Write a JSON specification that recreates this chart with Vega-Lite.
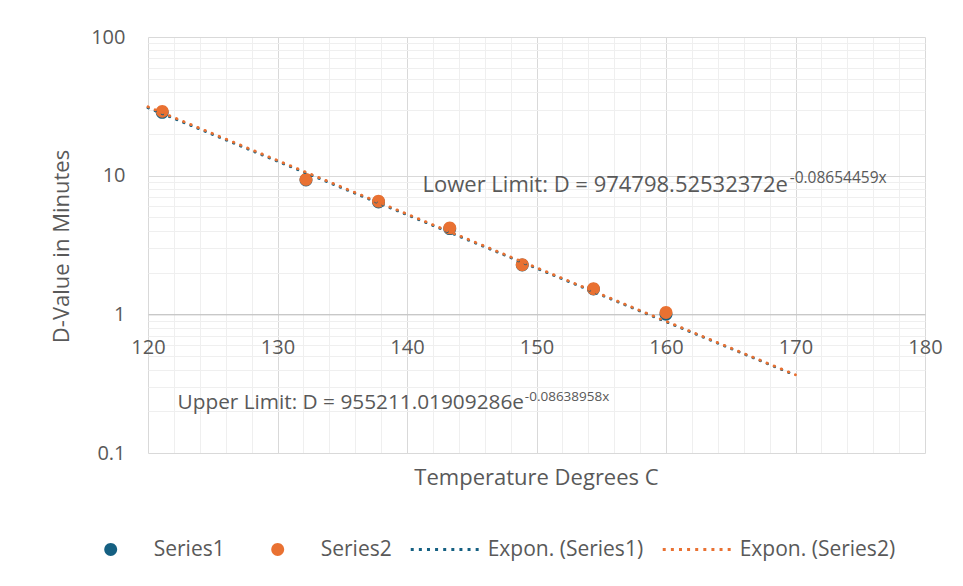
{
  "$schema": "https://vega.github.io/schema/vega-lite/v6.json",
  "width": 777,
  "height": 416,
  "autosize": {"type": "none"},
  "padding": {"left": 148, "top": 37, "right": 38, "bottom": 133},
  "background": "white",
  "config": {
    "view": {"stroke": null},
    "font": "Open Sans",
    "axis": {"labelFont": "Open Sans", "titleFont": "Open Sans", "labelColor": "#595959", "titleColor": "#595959", "titleFontWeight": "normal"},
    "legend": {"labelFont": "Open Sans"}
  },
  "datasets": {
    "pts": [
      {"series": "Series1", "T": 121.1, "D": 28.6},
      {"series": "Series1", "T": 132.2, "D": 9.3},
      {"series": "Series1", "T": 137.8, "D": 6.45},
      {"series": "Series1", "T": 143.3, "D": 4.15},
      {"series": "Series1", "T": 148.9, "D": 2.27},
      {"series": "Series1", "T": 154.4, "D": 1.52},
      {"series": "Series1", "T": 160.0, "D": 1.0},
      {"series": "Series2", "T": 121.1, "D": 29.1},
      {"series": "Series2", "T": 132.2, "D": 9.4},
      {"series": "Series2", "T": 137.8, "D": 6.55},
      {"series": "Series2", "T": 143.3, "D": 4.2},
      {"series": "Series2", "T": 148.9, "D": 2.28},
      {"series": "Series2", "T": 154.4, "D": 1.53},
      {"series": "Series2", "T": 160.0, "D": 1.03}
    ]
  },
  "resolve": {"axis": {"x": "independent", "y": "independent"}},
  "layer": [
    {
      "data": {"name": "pts"},
      "mark": {"type": "point", "opacity": 0},
      "encoding": {
        "x": {"field": "T", "type": "quantitative", "scale": {"domain": [120, 180], "nice": false, "zero": false},
          "axis": {"orient": "bottom", "values": [122,124,126,128,132,134,136,138,142,144,146,148,152,154,156,158,162,164,166,168,172,174,176,178], "grid": true, "gridColor": "#efefef", "gridWidth": 1, "labels": false, "ticks": false, "domain": false, "title": null}},
        "y": {"field": "D", "type": "quantitative", "scale": {"type": "log", "domain": [0.1, 100], "nice": false},
          "axis": {"orient": "left", "values": [0.2,0.3,0.4,0.5,0.6,0.7,0.8,0.9,2,3,4,5,6,7,8,9,20,30,40,50,60,70,80,90], "grid": true, "gridColor": "#efefef", "gridWidth": 1, "labels": false, "ticks": false, "domain": false, "title": null}}
      }
    },
    {
      "data": {"name": "pts"},
      "mark": {"type": "point", "opacity": 0},
      "encoding": {
        "x": {"field": "T", "type": "quantitative", "scale": {"domain": [120, 180], "nice": false, "zero": false},
          "axis": {"orient": "bottom", "values": [120,130,140,150,160,170,180], "grid": true, "gridColor": "#d9d9d9", "gridWidth": 1, "labels": false, "ticks": false, "domain": false, "title": null}},
        "y": {"field": "D", "type": "quantitative", "scale": {"type": "log", "domain": [0.1, 100], "nice": false},
          "axis": {"orient": "left", "values": [0.1, 1, 10, 100], "format": "~g", "grid": true, "gridColor": "#d9d9d9", "gridWidth": 1, "ticks": false, "domain": false,
            "labelFontSize": 20, "labelPadding": 23, "labelBaseline": "middle",
            "title": "D-Value in Minutes", "titleFontSize": 22, "titleX": -80, "titleY": 209, "titleAngle": 270, "titleBaseline": "alphabetic", "titleAlign": "center"}}
      }
    },
    {
      "data": {"name": "pts"},
      "mark": {"type": "point", "opacity": 0},
      "encoding": {
        "x": {"field": "T", "type": "quantitative", "scale": {"domain": [120, 180], "nice": false, "zero": false},
          "axis": {"orient": "bottom", "offset": -138.67, "values": [120,130,140,150,160,170,180], "grid": false, "ticks": false, "tickSize": 0, "domain": true, "domainColor": "#bfbfbf", "domainWidth": 1,
            "labelFontSize": 20, "labelPadding": 39, "labelBaseline": "alphabetic", "labelFlush": false,
            "title": "Temperature Degrees C", "titleFontSize": 22, "titleX": 388, "titleY": 170, "titleBaseline": "alphabetic", "titleAlign": "center"}},
        "y": {"field": "D", "type": "quantitative", "scale": {"type": "log", "domain": [0.1, 100], "nice": false}, "axis": null}
      }
    },
    {
      "data": {"name": "pts"},
      "mark": {"type": "point", "filled": true, "opacity": 1, "size": 4624},
      "encoding": {
        "x": {"field": "T", "type": "quantitative", "scale": {"domain": [120, 180], "nice": false, "zero": false}, "axis": null},
        "y": {"field": "D", "type": "quantitative", "scale": {"type": "log", "domain": [0.1, 100], "nice": false}, "axis": null},
        "color": {"field": "series", "type": "nominal",
          "scale": {"domain": ["Series1", "Series2", "Expon. (Series1)", "Expon. (Series2)"], "range": ["#156082", "#E97132", "#156082", "#E97132"]},
          "legend": {"orient": "none", "legendX": -72.3, "legendY": 477.5, "direction": "horizontal", "title": null, "padding": 0,
            "symbolSize": 4624, "labelOffset": 8, "columnPadding": 18, "labelFontSize": 21, "labelColor": "#595959", "labelLimit": 300, "labelBaseline": "middle"}},
        "shape": {"field": "series", "type": "nominal",
          "scale": {"domain": ["Series1", "Series2", "Expon. (Series1)", "Expon. (Series2)"],
            "range": [
              "M-1,0M1,0M0.19,0A0.19,0.19,0,1,1,-0.19,0A0.19,0.19,0,1,1,0.19,0Z",
              "M-1,0M1,0M0.19,0A0.19,0.19,0,1,1,-0.19,0A0.19,0.19,0,1,1,0.19,0Z",
              "M-0.999,-0.044h0.088v0.088h-0.088zM-0.76,-0.044h0.088v0.088h-0.088zM-0.521,-0.044h0.088v0.088h-0.088zM-0.283,-0.044h0.088v0.088h-0.088zM-0.044,-0.044h0.088v0.088h-0.088zM0.195,-0.044h0.088v0.088h-0.088zM0.433,-0.044h0.088v0.088h-0.088zM0.672,-0.044h0.088v0.088h-0.088zM0.911,-0.044h0.088v0.088h-0.088z",
              "M-0.999,-0.044h0.088v0.088h-0.088zM-0.76,-0.044h0.088v0.088h-0.088zM-0.521,-0.044h0.088v0.088h-0.088zM-0.283,-0.044h0.088v0.088h-0.088zM-0.044,-0.044h0.088v0.088h-0.088zM0.195,-0.044h0.088v0.088h-0.088zM0.433,-0.044h0.088v0.088h-0.088zM0.672,-0.044h0.088v0.088h-0.088zM0.911,-0.044h0.088v0.088h-0.088z"
            ]},
          "legend": {"orient": "none", "legendX": -72.3, "legendY": 477.5, "direction": "horizontal", "title": null, "padding": 0,
            "symbolSize": 4624, "labelOffset": 8, "columnPadding": 18, "labelFontSize": 21, "labelColor": "#595959", "labelLimit": 300, "labelBaseline": "middle"}}
      }
    },
    {
      "data": {"name": "pts"},
      "transform": [
        {"filter": "datum.series === 'Series1'"},
        {"regression": "D", "on": "T", "method": "exp", "extent": [120, 170]}
      ],
      "mark": {"type": "line", "color": "#156082", "strokeWidth": 2.8, "strokeDash": [0.5, 7.2], "strokeCap": "round"},
      "encoding": {
        "x": {"field": "T", "type": "quantitative", "scale": {"domain": [120, 180], "nice": false, "zero": false}, "axis": null},
        "y": {"field": "D", "type": "quantitative", "scale": {"type": "log", "domain": [0.1, 100], "nice": false}, "axis": null}
      }
    },
    {
      "data": {"name": "pts"},
      "transform": [
        {"filter": "datum.series === 'Series2'"},
        {"regression": "D", "on": "T", "method": "exp", "extent": [120, 170]}
      ],
      "mark": {"type": "line", "color": "#E97132", "strokeWidth": 2.8, "strokeDash": [0.5, 7.2], "strokeCap": "round"},
      "encoding": {
        "x": {"field": "T", "type": "quantitative", "scale": {"domain": [120, 180], "nice": false, "zero": false}, "axis": null},
        "y": {"field": "D", "type": "quantitative", "scale": {"type": "log", "domain": [0.1, 100], "nice": false}, "axis": null}
      }
    },
    {
      "data": {"values": [{"T": 141.2, "D": 7.66, "label": "Lower Limit: D = 974798.52532372e"}]},
      "mark": {"type": "text", "align": "left", "baseline": "alphabetic", "fontSize": 22, "font": "Open Sans", "color": "#595959"},
      "encoding": {
        "x": {"field": "T", "type": "quantitative", "scale": {"domain": [120, 180], "nice": false, "zero": false}, "axis": null},
        "y": {"field": "D", "type": "quantitative", "scale": {"type": "log", "domain": [0.1, 100], "nice": false}, "axis": null},
        "text": {"field": "label"}
      }
    },
    {
      "data": {"values": [{"T": 169.55, "D": 8.8, "label": "-0.08654459x"}]},
      "mark": {"type": "text", "align": "left", "baseline": "alphabetic", "fontSize": 15.5, "font": "Open Sans", "color": "#595959"},
      "encoding": {
        "x": {"field": "T", "type": "quantitative", "scale": {"domain": [120, 180], "nice": false, "zero": false}, "axis": null},
        "y": {"field": "D", "type": "quantitative", "scale": {"type": "log", "domain": [0.1, 100], "nice": false}, "axis": null},
        "text": {"field": "label"}
      }
    },
    {
      "data": {"values": [{"T": 122.28, "D": 0.2075, "label": "Upper Limit: D = 955211.01909286e"}]},
      "mark": {"type": "text", "align": "left", "baseline": "alphabetic", "fontSize": 20.8, "font": "Open Sans", "color": "#595959"},
      "encoding": {
        "x": {"field": "T", "type": "quantitative", "scale": {"domain": [120, 180], "nice": false, "zero": false}, "axis": null},
        "y": {"field": "D", "type": "quantitative", "scale": {"type": "log", "domain": [0.1, 100], "nice": false}, "axis": null},
        "text": {"field": "label"}
      }
    },
    {
      "data": {"values": [{"T": 149.1, "D": 0.237, "label": "-0.08638958x"}]},
      "mark": {"type": "text", "align": "left", "baseline": "alphabetic", "fontSize": 13.5, "font": "Open Sans", "color": "#595959"},
      "encoding": {
        "x": {"field": "T", "type": "quantitative", "scale": {"domain": [120, 180], "nice": false, "zero": false}, "axis": null},
        "y": {"field": "D", "type": "quantitative", "scale": {"type": "log", "domain": [0.1, 100], "nice": false}, "axis": null},
        "text": {"field": "label"}
      }
    }
  ]
}
